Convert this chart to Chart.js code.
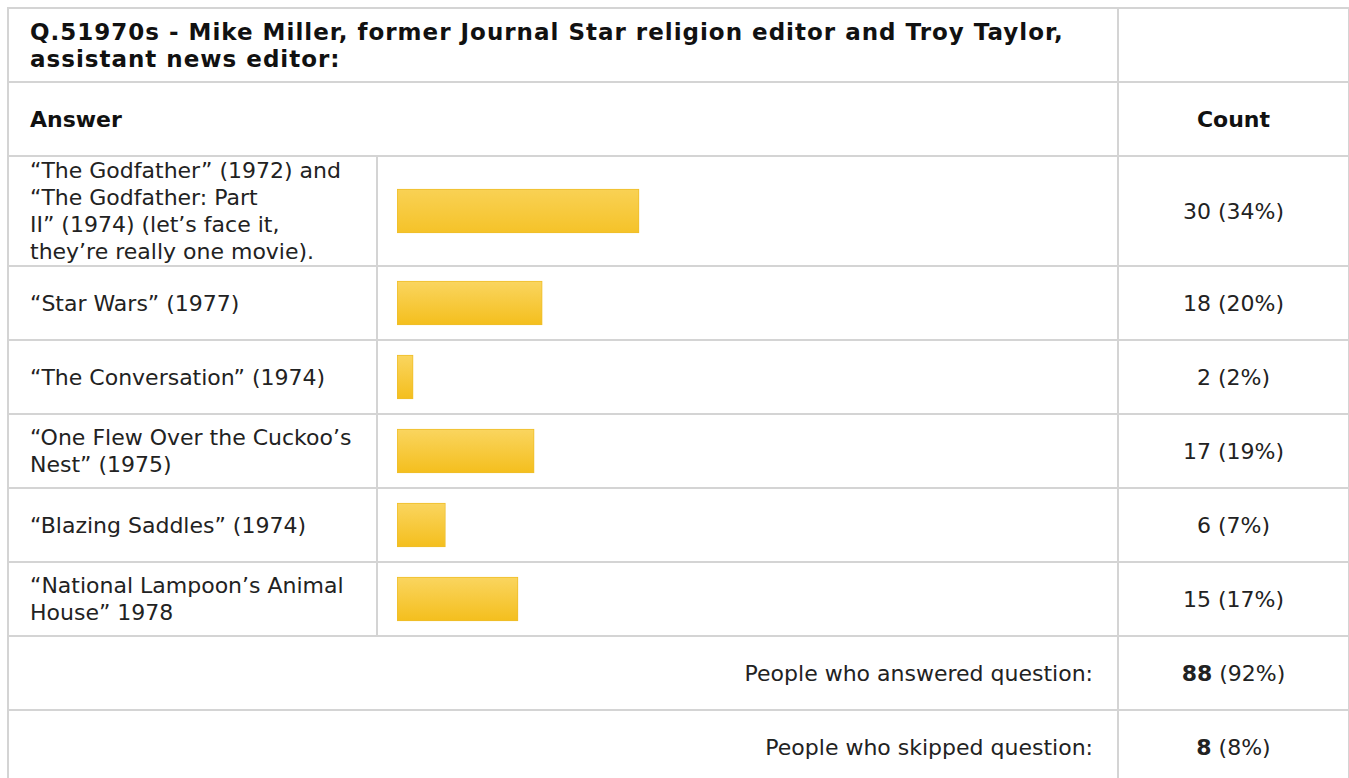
<!DOCTYPE html>
<html lang="en">
<head>
  <meta charset="UTF-8">
  <title>Q.5 1970s - survey results</title>
  <script src="https://cdn.jsdelivr.net/npm/chart.js"></script>
  <style>
    body {
      margin: 0;
      background: #ffffff;
      font-family: 'DejaVu Sans', Verdana, sans-serif;
      color: #222;
    }
    table {
      position: absolute;
      left: 7px;
      top: 7px;
      width: 1341px;
      border-collapse: collapse;
      table-layout: fixed;
      font-size: 22px;
      line-height: 27px;
    }
    td, th {
      border: 2px solid #d4d4d4;
      padding: 0 21px;
      vertical-align: middle;
    }
    .title {
      font-weight: bold;
      font-size: 23px;
      letter-spacing: 1px;
      text-align: left;
      color: #111;
      padding-top: 2px;
    }
    .head th { font-weight: bold; color: #111; }
    .answer { white-space: pre-line; }
    .bar-cell { padding: 0; }
    .bar-box { position: relative; width: 100%; }
    .count { text-align: center; }
    .summary { text-align: right; padding-right: 24px; }
  </style>
</head>
<body>

<table id="results">
  <colgroup>
    <col style="width:369px">
    <col style="width:741px">
    <col style="width:231px">
  </colgroup>
  <tr style="height:74px">
    <th class="title" colspan="2">Q.51970s - Mike Miller, former Journal Star religion editor and Troy Taylor, assistant news editor:</th>
    <th></th>
  </tr>
  <tr class="head" style="height:74px">
    <th colspan="2" style="text-align:left">Answer</th>
    <th style="text-align:center">Count</th>
  </tr>
  <tbody id="rows"></tbody>
  <tr style="height:74px">
    <td class="summary" colspan="2">People who answered question:</td>
    <td class="count"><b>88</b> (92%)</td>
  </tr>
  <tr style="height:74px">
    <td class="summary" colspan="2">People who skipped question:</td>
    <td class="count"><b>8</b> (8%)</td>
  </tr>
</table>

<script>
  const answers = [
    '\u201cThe Godfather\u201d (1972) and \u201cThe Godfather: Part\nII\u201d (1974) (let\u2019s face it, they\u2019re really one movie).',
    '\u201cStar Wars\u201d (1977)',
    '\u201cThe Conversation\u201d (1974)',
    '\u201cOne Flew Over the Cuckoo\u2019s Nest\u201d (1975)',
    '\u201cBlazing Saddles\u201d (1974)',
    '\u201cNational Lampoon\u2019s Animal House\u201d 1978'
  ];
  const counts = [30, 18, 2, 17, 6, 15];
  const percents = [34, 20, 2, 19, 7, 17];
  const answeredTotal = 88;
  const rowHeights = [110, 74, 74, 74, 74, 74];

  const rowsEl = document.getElementById('rows');

  answers.forEach((answer, i) => {
    const tr = document.createElement('tr');
    tr.style.height = rowHeights[i] + 'px';

    const tdText = document.createElement('td');
    tdText.className = 'answer';
    tdText.textContent = answer;

    const tdBar = document.createElement('td');
    tdBar.className = 'bar-cell';
    const box = document.createElement('div');
    box.className = 'bar-box';
    box.style.height = (rowHeights[i] - 2) + 'px';
    const canvas = document.createElement('canvas');
    box.appendChild(canvas);
    tdBar.appendChild(box);

    const tdCount = document.createElement('td');
    tdCount.className = 'count';
    tdCount.textContent = counts[i] + ' (' + percents[i] + '%)';

    tr.appendChild(tdText);
    tr.appendChild(tdBar);
    tr.appendChild(tdCount);
    rowsEl.appendChild(tr);

    new Chart(canvas, {
      type: 'bar',
      data: {
        labels: [answer],
        datasets: [{
          data: [counts[i]],
          backgroundColor: (ctx) => {
            const area = ctx.chart.chartArea;
            if (!area) return '#f6c72f';
            const g = ctx.chart.ctx.createLinearGradient(0, area.top, 0, area.bottom);
            g.addColorStop(0.2, '#fad55f');
            g.addColorStop(0.8, '#f4bf1e');
            return g;
          },
          borderColor: '#efbe2a',
          borderWidth: 1,
          borderSkipped: false,
          barThickness: 44
        }]
      },
      options: {
        indexAxis: 'y',
        responsive: true,
        maintainAspectRatio: false,
        animation: false,
        layout: { padding: { left: 19, right: 10, top: 0, bottom: 0 } },
        scales: {
          x: { display: false, min: 0, max: answeredTotal },
          y: { display: false }
        },
        plugins: { legend: { display: false }, tooltip: { enabled: false } }
      }
    });
  });
</script>

</body>
</html>
